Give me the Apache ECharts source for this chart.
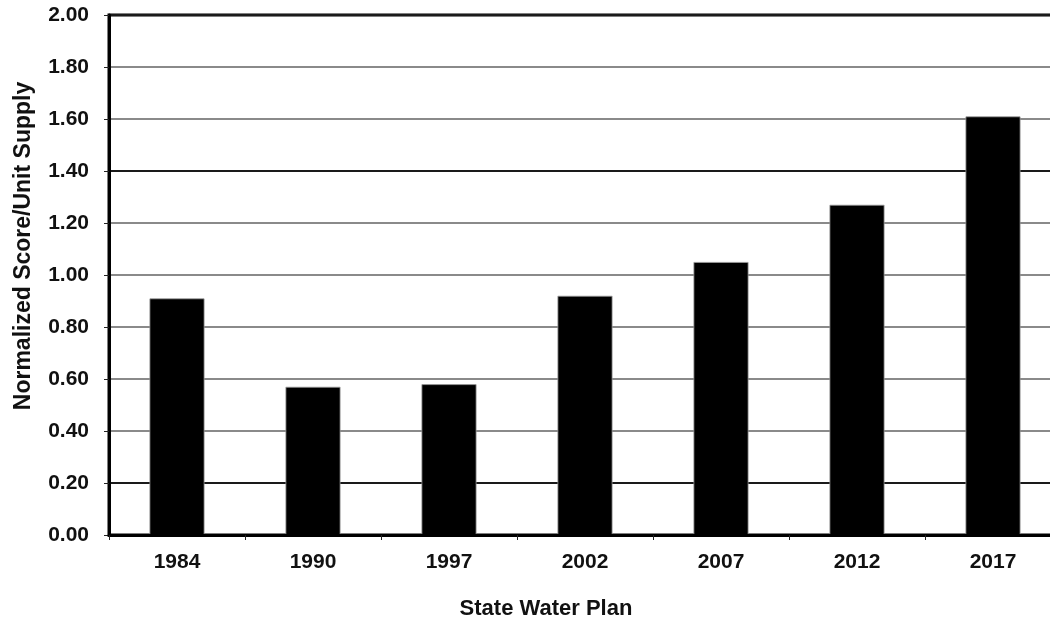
<!DOCTYPE html>
<html>
<head>
<meta charset="utf-8">
<script src="https://cdn.jsdelivr.net/npm/echarts@6/dist/echarts.min.js"></script>
<style>
html,body{margin:0;padding:0;background:#fff;overflow:hidden;}
#chart{width:1050px;height:621px;}
</style>
</head>
<body>
<div id="chart"></div>
<script>
const categories = ['1984', '1990', '1997', '2002', '2007', '2012', '2017'];
const values = [0.91, 0.57, 0.58, 0.92, 1.05, 1.27, 1.61];
const yTitle = 'Normalized Score/Unit Supply';
const xTitle = 'State Water Plan';

const chart = echarts.init(document.getElementById('chart'));
const font = '"Liberation Sans", Arial, sans-serif';
const gray = '#8a8a8a', dark = '#1a1a1a';
chart.setOption({
  animation: false,
  backgroundColor: '#fff',
  grid: {left: 109, top: 15, width: 952, height: 520, outerBoundsMode: 'none', containLabel: false,
    show: true, borderColor: '#000', borderWidth: 3, backgroundColor: 'transparent'},
  xAxis: {
    type: 'category',
    data: categories,
    axisLine: {show: true, lineStyle: {color: '#000', width: 3}},
    axisTick: {show: true, length: 5, lineStyle: {color: '#222', width: 1}},
    axisLabel: {margin: 17, fontFamily: font, fontWeight: 'bold', fontSize: 21, color: '#111'},
    z: 5
  },
  yAxis: {
    type: 'value',
    min: 0, max: 2, interval: 0.2,
    axisLine: {show: true, lineStyle: {color: '#000', width: 3}},
    axisTick: {show: true, length: 5, lineStyle: {color: '#222', width: 1}},
    axisLabel: {margin: 20, fontFamily: font, fontWeight: 'bold', fontSize: 21, color: '#111',
      formatter: v => v.toFixed(2)},
    splitLine: {show: true, lineStyle: {width: 2,
      color: [dark, dark, gray, gray, gray, gray, gray, dark, gray, gray, dark]}}
  },
  series: [{
    type: 'bar',
    data: values,
    barWidth: 55,
    itemStyle: {color: '#000', borderColor: '#9a9a9a', borderWidth: 0.8},
    z: 3
  }],
  graphic: [
    {type: 'text', x: 24, y: 246, rotation: Math.PI / 2,
      style: {text: yTitle, font: 'bold 23px ' + font, fill: '#111', align: 'center', verticalAlign: 'middle'}},
    {type: 'text', x: 546, y: 609,
      style: {text: xTitle, font: 'bold 22px ' + font, fill: '#111', align: 'center', verticalAlign: 'middle'}}
  ]
});
</script>
</body>
</html>
